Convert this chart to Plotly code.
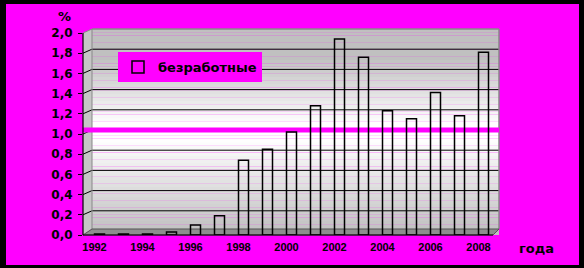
import plotly.graph_objects as go

# ---- data ----
years = list(range(1992, 2009))
unemployed = [0.01, 0.01, 0.01, 0.03, 0.10, 0.19, 0.74, 0.85, 1.02, 1.28,
              1.94, 1.76, 1.23, 1.15, 1.41, 1.18, 1.81]
series_name = "безработные"
y_tick_vals = [0.0, 0.2, 0.4, 0.6, 0.8, 1.0, 1.2, 1.4, 1.6, 1.8, 2.0]
x_tick_vals = [1992, 1994, 1996, 1998, 2000, 2002, 2004, 2006, 2008]
reference_level = 1.0
y_title = "%"
x_title = "года"

# ---- geometry (pixels) ----
W, H = 584, 268
PL, PR, PT, PB = 83, 499, 29, 235          # plot area edges
PX_PER_YEAR = 24.0
PX_PER_UNIT = 101.0
DEPTH = 9                                  # 3D depth offset x
DEPTH_Y = 4                                # 3D depth offset y
plot_w = PR - PL
plot_h = PB - PT
x0 = years[0] - 16.5 / PX_PER_YEAR
x_range = [x0, x0 + plot_w / PX_PER_YEAR]
y_range = [0, plot_h / PX_PER_UNIT]
dy = DEPTH_Y / PX_PER_UNIT


def px(xp):
    return (xp - PL) / plot_w


def py(yp):
    return (PB - yp) / plot_h


shapes = []
# magenta frame region over black paper
shapes.append(dict(type="rect", xref="paper", yref="paper", layer="below",
                   x0=px(6), x1=px(579), y0=py(265), y1=py(4),
                   fillcolor="#ff00ff", line=dict(width=0)))
# side wall
shapes.append(dict(type="path", xref="paper", yref="paper", layer="below",
                   path=f"M {px(PL)} {py(PB)} L {px(PL)} {py(PB - 2.0 * PX_PER_UNIT)} "
                        f"L {px(PL + DEPTH)} {py(PT)} L {px(PL + DEPTH)} {py(PB - 6)} Z",
                   fillcolor="#c6c6c6", line=dict(width=0)))


# back wall gradient strips
def gray_at(v):
    if v >= reference_level + 0.04:
        t = min(max((v - 1.1) / (1.75 - 1.1), 0), 1)
        g = 255 - t * (255 - 192)
    else:
        t = min(max((0.95 - v) / 0.95, 0), 1)
        g = 255 - t * (255 - 190)
    g = int(round(g))
    return f"rgb({g},{g},{g})"


n = 60
for i in range(n):
    a = y_range[0] + (y_range[1] - y_range[0]) * i / n
    b = y_range[0] + (y_range[1] - y_range[0]) * (i + 1) / n
    shapes.append(dict(type="rect", xref="paper", yref="y", layer="below",
                       x0=px(PL + DEPTH), x1=1, y0=a, y1=b + 0.002,
                       fillcolor=gray_at((a + b) / 2), line=dict(width=0)))

# gridlines on back wall and side wall
for v in y_tick_vals[1:-1]:
    shapes.append(dict(type="line", xref="paper", yref="y", layer="between",
                       x0=px(PL + DEPTH), x1=1, y0=v + dy, y1=v + dy,
                       line=dict(color="black", width=1)))
    shapes.append(dict(type="line", xref="paper", yref="y", layer="between",
                       x0=0, x1=px(PL + DEPTH), y0=v, y1=v + dy,
                       line=dict(color="black", width=1)))
# wall borders
shapes.append(dict(type="line", xref="paper", yref="y", layer="between",
                   x0=px(PL + DEPTH), x1=px(PL + DEPTH), y0=0.06, y1=y_range[1],
                   line=dict(color="#888888", width=1)))
shapes.append(dict(type="line", xref="paper", yref="paper", layer="between",
                   x0=px(PL + DEPTH), x1=1, y0=1, y1=1,
                   line=dict(color="#888888", width=1.5)))
shapes.append(dict(type="line", xref="paper", yref="paper", layer="between",
                   x0=1, x1=1, y0=py(229), y1=1,
                   line=dict(color="#888888", width=1.5)))
shapes.append(dict(type="line", xref="paper", yref="y", layer="between",
                   x0=0, x1=px(PL + DEPTH), y0=y_tick_vals[-1], y1=y_range[1],
                   line=dict(color="#888888", width=1)))
# floor
shapes.append(dict(type="path", xref="paper", yref="paper", layer="between",
                   path=f"M {px(PL)} {py(PB)} L {px(493)} {py(PB)} L {px(PR)} {py(229)} "
                        f"L {px(PL + DEPTH)} {py(229)} Z",
                   fillcolor="#8e8e8e", line=dict(color="#555555", width=1)))
# reference band at 1.0
shapes.append(dict(type="line", xref="paper", yref="y", layer="between",
                   x0=-0.005, x1=1, y0=reference_level + dy, y1=reference_level + dy,
                   line=dict(color="#ff00ff", width=5)))
# y axis line
shapes.append(dict(type="line", xref="paper", yref="y", layer="above",
                   x0=0, x1=0, y0=0, y1=y_tick_vals[-1],
                   line=dict(color="black", width=1.2)))
# x axis bottom line
shapes.append(dict(type="line", xref="paper", yref="paper", layer="above",
                   x0=0, x1=px(493), y0=0, y1=0,
                   line=dict(color="black", width=1.2)))

fig = go.Figure()
fig.add_trace(go.Bar(
    x=years, y=unemployed, name=series_name,
    width=10 / PX_PER_YEAR,
    marker=dict(color="rgba(0,0,0,0)", line=dict(color="black", width=1.5)),
))

bold = dict(family="DejaVu Sans", color="black", weight="bold")

fig.update_layout(
    width=W, height=H,
    margin=dict(l=PL, r=W - PR, t=PT, b=H - PB, pad=0),
    paper_bgcolor="black",
    plot_bgcolor="rgba(0,0,0,0)",
    separators=", ",
    shapes=shapes,
    showlegend=True,
    legend=dict(x=px(118), y=py(52), xanchor="left", yanchor="top",
                bgcolor="#ff00ff", borderwidth=0, itemwidth=30,
                font=dict(size=13, **bold)),
    xaxis=dict(range=x_range, showgrid=False, zeroline=False, showline=False,
               tickvals=x_tick_vals, ticks="", ticklabelstandoff=4,
               ticklabelshift=-5,
               tickfont=dict(family="Liberation Sans", size=11, color="black",
                             weight="bold")),
    yaxis=dict(range=y_range, showgrid=False, zeroline=False, showline=False,
               tickvals=y_tick_vals, tickformat=".1f", ticks="outside",
               ticklen=4, tickcolor="black", ticklabelstandoff=3,
               tickfont=dict(size=12, **bold)),
    annotations=[
        dict(text=y_title, xref="paper", yref="paper", x=px(64), y=py(16),
             xanchor="center", yanchor="middle",
             showarrow=False, font=dict(size=13, **bold)),
        dict(text=x_title, xref="paper", yref="paper", x=px(536), y=py(248),
             xanchor="center", yanchor="middle",
             showarrow=False, font=dict(size=13, **bold)),
    ],
)

fig.write_html("out.html")
